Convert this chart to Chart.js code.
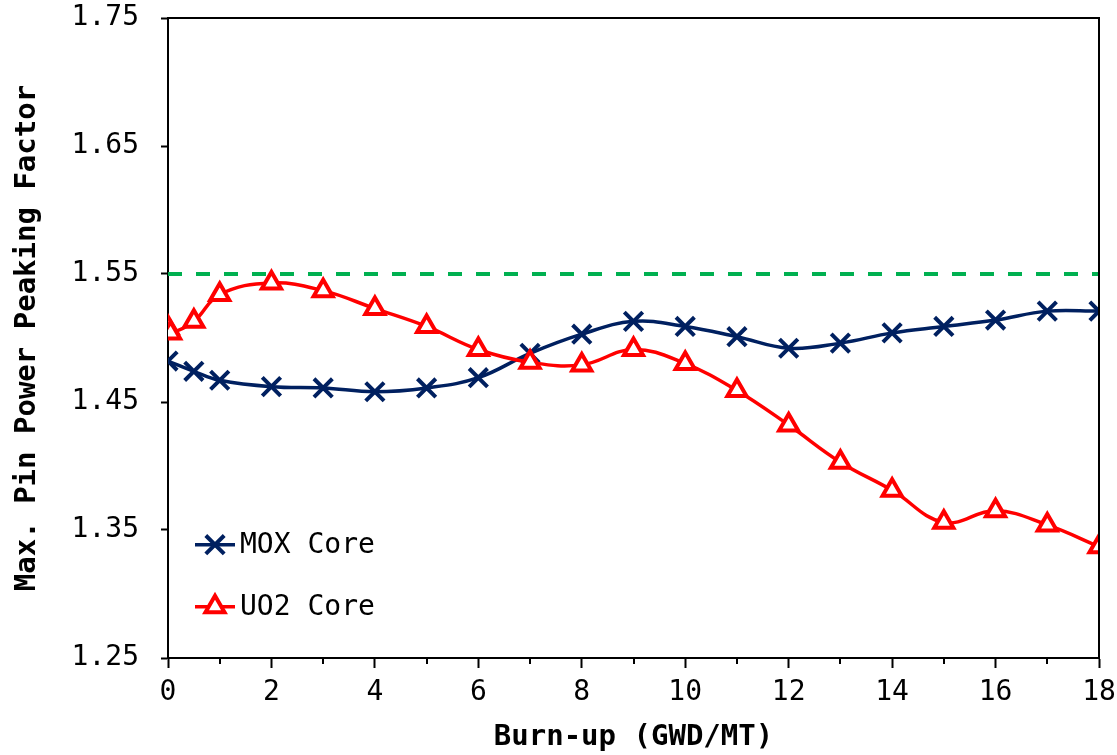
<!DOCTYPE html>
<html>
<head>
<meta charset="utf-8">
<script src="https://cdn.jsdelivr.net/npm/chart.js@4.4.1/dist/chart.umd.min.js"></script>
<style>
  html, body { margin: 0; padding: 0; background: #ffffff; }
  #wrap { width: 1117px; height: 755px; position: relative; }
</style>
</head>
<body>
<div id="wrap"><canvas id="c" width="1117" height="755"></canvas></div>
<script>
// ---- data ----
const moxBurnup = [0, 0.5, 1, 2, 3, 4, 5, 6, 7, 8, 9, 10, 11, 12, 13, 14, 15, 16, 17, 18];
const moxPeaking = [1.482, 1.474, 1.467, 1.462, 1.461, 1.458, 1.461, 1.469, 1.488, 1.503, 1.513, 1.509, 1.501, 1.492, 1.496, 1.504, 1.509, 1.514, 1.521, 1.521];

const uo2Burnup = [0, 0.05, 0.5, 1, 2, 3, 4, 5, 6, 7, 8, 9, 10, 11, 12, 13, 14, 15, 16, 17, 18];
const uo2Peaking = [1.508, 1.504, 1.513, 1.534, 1.543, 1.537, 1.523, 1.509, 1.491, 1.481, 1.479, 1.491, 1.480, 1.459, 1.432, 1.403, 1.381, 1.356, 1.365, 1.354, 1.337];

const limitBurnup = [0, 18];
const limitPeaking = [1.55, 1.55];

const yTickValues = [1.25, 1.35, 1.45, 1.55, 1.65, 1.75];
const xMinorTicks = [1, 3, 5, 7, 9, 11, 13, 15, 17];

const seriesLabels = ['MOX Core', 'UO2 Core'];
const xTitle = 'Burn-up (GWD/MT)';
const yTitle = 'Max. Pin Power Peaking Factor';

const toPoints = (xs, ys) => xs.map((x, i) => ({ x: x, y: ys[i] }));

const FONT = "'DejaVu Sans Mono', 'Liberation Mono', monospace";
const NAVY = '#002060';
const RED = '#ff0000';
const GREEN = '#00b050';

const extras = {
  id: 'extras',
  afterDraw(chart) {
    const ctx = chart.ctx;
    const a = chart.chartArea;
    const xs = chart.scales.x;
    ctx.save();
    ctx.strokeStyle = '#000';
    ctx.lineWidth = 2;
    ctx.beginPath();
    ctx.moveTo(a.left, a.top);
    ctx.lineTo(a.right, a.top);
    ctx.lineTo(a.right, a.bottom);
    ctx.stroke();
    xMinorTicks.forEach(v => {
      const px = Math.round(xs.getPixelForValue(v));
      ctx.beginPath();
      ctx.moveTo(px, a.bottom);
      ctx.lineTo(px, a.bottom + 6);
      ctx.stroke();
    });
    const lx = a.left + 27;
    const rows = [a.top + 0.823 * (a.bottom - a.top), a.top + 0.92 * (a.bottom - a.top)];
    [0, 1].forEach((di, k) => {
      const ds = chart.data.datasets[di];
      const y = rows[k];
      ctx.strokeStyle = ds.borderColor;
      ctx.lineWidth = 3.5;
      ctx.setLineDash([]);
      ctx.beginPath();
      ctx.moveTo(lx, y);
      ctx.lineTo(lx + 40, y);
      ctx.stroke();
      ctx.lineWidth = ds.pointBorderWidth;
      ctx.strokeStyle = ds.pointBorderColor;
      ctx.fillStyle = ds.pointBackgroundColor;
      Chart.helpers.drawPoint(ctx, {
        pointStyle: ds.pointStyle,
        radius: ds.pointRadius,
        borderWidth: ds.pointBorderWidth,
        rotation: 0
      }, lx + 20, y);
      ctx.fillStyle = '#000';
      ctx.font = '28px ' + FONT;
      ctx.textBaseline = 'middle';
      ctx.textAlign = 'left';
      ctx.fillText(ds.label, lx + 45, y + 1);
    });
    ctx.restore();
  }
};

new Chart(document.getElementById('c'), {
  type: 'scatter',
  data: {
    datasets: [
      {
        label: seriesLabels[0],
        data: toPoints(moxBurnup, moxPeaking),
        showLine: true,
        borderColor: NAVY,
        backgroundColor: NAVY,
        borderWidth: 3.5,
        tension: 0.4,
        pointStyle: 'crossRot',
        pointRadius: 13,
        pointBorderWidth: 4,
        pointBorderColor: NAVY,
        pointBackgroundColor: NAVY,
        order: 1
      },
      {
        label: seriesLabels[1],
        data: toPoints(uo2Burnup, uo2Peaking),
        showLine: true,
        borderColor: RED,
        backgroundColor: '#ffffff',
        borderWidth: 3.5,
        tension: 0.4,
        pointStyle: 'triangle',
        pointRadius: 11,
        pointBorderWidth: 4,
        pointBorderColor: RED,
        pointBackgroundColor: '#ffffff',
        order: 0
      },
      {
        label: 'limit',
        data: toPoints(limitBurnup, limitPeaking),
        showLine: true,
        borderColor: GREEN,
        borderWidth: 4,
        borderDash: [14, 14],
        pointRadius: 0,
        order: 2
      }
    ]
  },
  options: {
    responsive: false,
    animation: false,
    devicePixelRatio: 1,
    layout: { padding: { top: 18, right: 18, left: 0, bottom: 0 } },
    plugins: {
      legend: { display: false },
      tooltip: { enabled: false }
    },
    scales: {
      x: {
        type: 'linear',
        min: 0,
        max: 18,
        afterFit(scale) {
          scale.height = 97;
          scale.paddingLeft = 0;
          scale.paddingRight = 0;
        },
        ticks: {
          stepSize: 2,
          color: '#000',
          font: { family: FONT, size: 28 },
          padding: 8,
          maxRotation: 0
        },
        grid: {
          drawOnChartArea: false,
          drawTicks: true,
          tickLength: 10,
          tickWidth: 2,
          tickColor: '#000'
        },
        border: { display: true, color: '#000', width: 2 },
        title: {
          display: true,
          text: xTitle,
          color: '#000',
          font: { family: FONT, size: 29, weight: 'bold' },
          padding: { top: 11, bottom: 0 }
        }
      },
      y: {
        type: 'linear',
        min: 1.25,
        max: 1.75,
        afterFit(scale) {
          scale.width = 168;
          scale.paddingTop = 0;
          scale.paddingBottom = 0;
        },
        afterBuildTicks(scale) { scale.ticks = yTickValues.map(v => ({ value: v })); },
        ticks: {
          color: '#000',
          font: { family: FONT, size: 28 },
          padding: 22,
          callback: v => Number(v).toFixed(2)
        },
        grid: {
          drawOnChartArea: false,
          drawTicks: true,
          tickLength: 7,
          tickWidth: 2,
          tickColor: '#000'
        },
        border: { display: true, color: '#000', width: 2 },
        title: {
          display: true,
          text: yTitle,
          color: '#000',
          font: { family: FONT, size: 29, weight: 'bold' },
          padding: { top: 10, bottom: 0 }
        }
      }
    }
  },
  plugins: [extras]
});
</script>
</body>
</html>
